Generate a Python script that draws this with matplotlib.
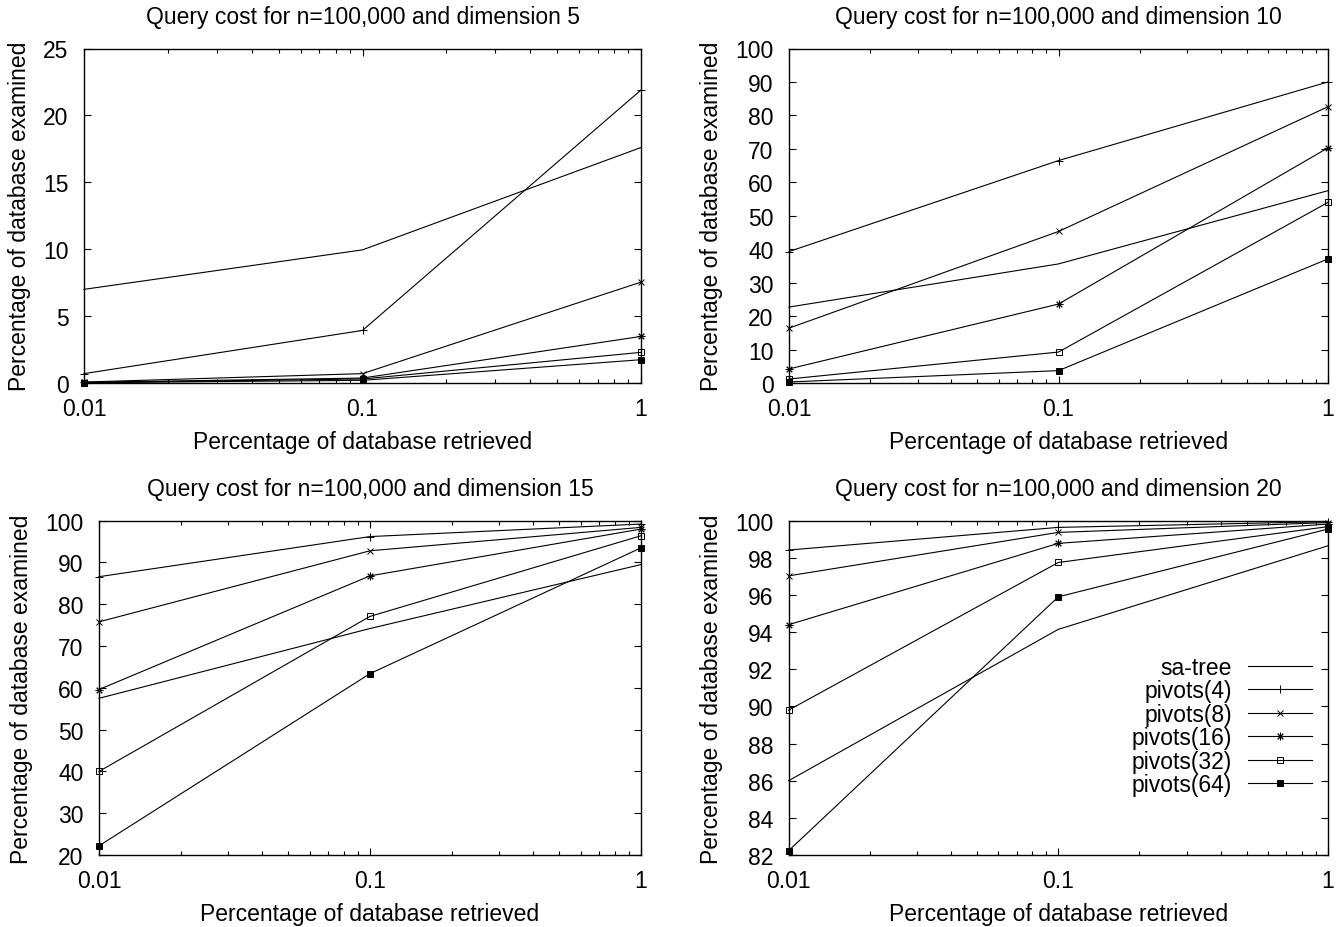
import matplotlib
matplotlib.use("Agg")
import matplotlib.pyplot as plt
from matplotlib.ticker import FixedLocator, LogLocator, NullFormatter, FixedFormatter

plt.rcParams['font.family'] = ['Liberation Sans', 'DejaVu Sans']
plt.rcParams['font.size'] = 16.5

# ---- data ----
retrieved = [0.01, 0.1, 1]
series_names = ["sa-tree", "pivots(4)", "pivots(8)", "pivots(16)", "pivots(32)", "pivots(64)"]

dim5_sa = [7.0, 9.95, 17.6]
dim5_p4 = [0.7, 3.93, 21.9]
dim5_p8 = [0.07, 0.7, 7.54]
dim5_p16 = [0.05, 0.37, 3.48]
dim5_p32 = [0.03, 0.3, 2.29]
dim5_p64 = [0.02, 0.2, 1.74]

dim10_sa = [22.7, 35.6, 57.5]
dim10_p4 = [39.3, 66.5, 90.0]
dim10_p8 = [16.4, 45.3, 82.6]
dim10_p16 = [4.2, 23.6, 70.3]
dim10_p32 = [1.2, 9.25, 54.0]
dim10_p64 = [0.3, 3.7, 37.1]

dim15_sa = [57.5, 74.2, 89.5]
dim15_p4 = [86.6, 96.2, 99.2]
dim15_p8 = [75.8, 92.8, 98.4]
dim15_p16 = [59.6, 86.8, 98.0]
dim15_p32 = [40.0, 77.1, 96.4]
dim15_p64 = [22.2, 63.4, 93.5]

dim20_sa = [86.0, 94.15, 98.65]
dim20_p4 = [98.42, 99.64, 99.95]
dim20_p8 = [97.03, 99.37, 99.9]
dim20_p16 = [94.4, 98.78, 99.82]
dim20_p32 = [89.8, 97.75, 99.68]
dim20_p64 = [82.23, 95.9, 99.55]

dimensions = [5, 10, 15, 20]
panel_data = [
    [dim5_sa, dim5_p4, dim5_p8, dim5_p16, dim5_p32, dim5_p64],
    [dim10_sa, dim10_p4, dim10_p8, dim10_p16, dim10_p32, dim10_p64],
    [dim15_sa, dim15_p4, dim15_p8, dim15_p16, dim15_p32, dim15_p64],
    [dim20_sa, dim20_p4, dim20_p8, dim20_p16, dim20_p32, dim20_p64],
]
y_ranges = [(0, 25, 5), (0, 100, 10), (20, 100, 10), (82, 100, 2)]

# ---- styles ----
markers = [None, '+', 'x', (8, 2, 0), 's', 's']
msizes = [0, 6, 5, 5.5, 4.8, 4.8]
fills = ['full', 'full', 'full', 'full', 'none', 'full']

FS = 16.5
W, H = 1338, 928
fig = plt.figure(figsize=(W / 100, H / 100), dpi=100)

# axes boxes in pixels: left, top, right, bottom
boxes = [
    (84, 49.5, 641, 384),
    (789, 49.5, 1328, 384),
    (99, 521.7, 641, 856),
    (788.6, 521.7, 1328, 856),
]

for i, (dim, data, yr, box) in enumerate(zip(dimensions, panel_data, y_ranges, boxes)):
    l, t, r, b = box
    ax = fig.add_axes([l / W, 1 - b / H, (r - l) / W, (b - t) / H])
    for name, vals, m, ms, fs in zip(series_names, data, markers, msizes, fills):
        ax.plot(retrieved, vals, color='black', linewidth=0.8, marker=m,
                markersize=ms, fillstyle=fs, markeredgewidth=0.7,
                clip_on=False, label=name)
    ax.set_xscale('log')
    ax.set_xlim(0.01, 1)
    ax.set_ylim(yr[0], yr[1])
    ax.xaxis.set_major_locator(FixedLocator(retrieved))
    ax.xaxis.set_major_formatter(FixedFormatter(["0.01", "0.1", "1"]))
    ax.xaxis.set_minor_locator(LogLocator(base=10, subs=range(2, 10)))
    ax.xaxis.set_minor_formatter(NullFormatter())
    yt = list(range(yr[0], yr[1] + 1, yr[2]))
    ax.set_yticks(yt)
    ax.tick_params(axis='both', which='both', direction='in', top=True, right=True)
    ax.tick_params(axis='x', which='major', length=5, width=0.8, pad=10)
    ax.tick_params(axis='x', which='minor', length=3, width=0.8)
    ax.tick_params(axis='y', which='major', length=5, width=0.8, pad=11)
    for s in ax.spines.values():
        s.set_linewidth(1.0)
    ax.set_title("Query cost for n=100,000 and dimension %d" % dim, pad=18.5, fontsize=FS)
    ax.set_xlabel("Percentage of database retrieved", labelpad=7, fontsize=FS)
    ax.set_ylabel("Percentage of database examined", labelpad=9, fontsize=FS)
    if i == 3:
        ax.legend(loc='upper right', bbox_to_anchor=(1312 / W, 1 - 657 / H),
                  bbox_transform=fig.transFigure, frameon=False,
                  markerfirst=False, numpoints=1, handlelength=2.8,
                  handletextpad=0.7, labelspacing=0.02, borderpad=0,
                  borderaxespad=0, fontsize=FS)

fig.savefig("out.png", dpi=100)
